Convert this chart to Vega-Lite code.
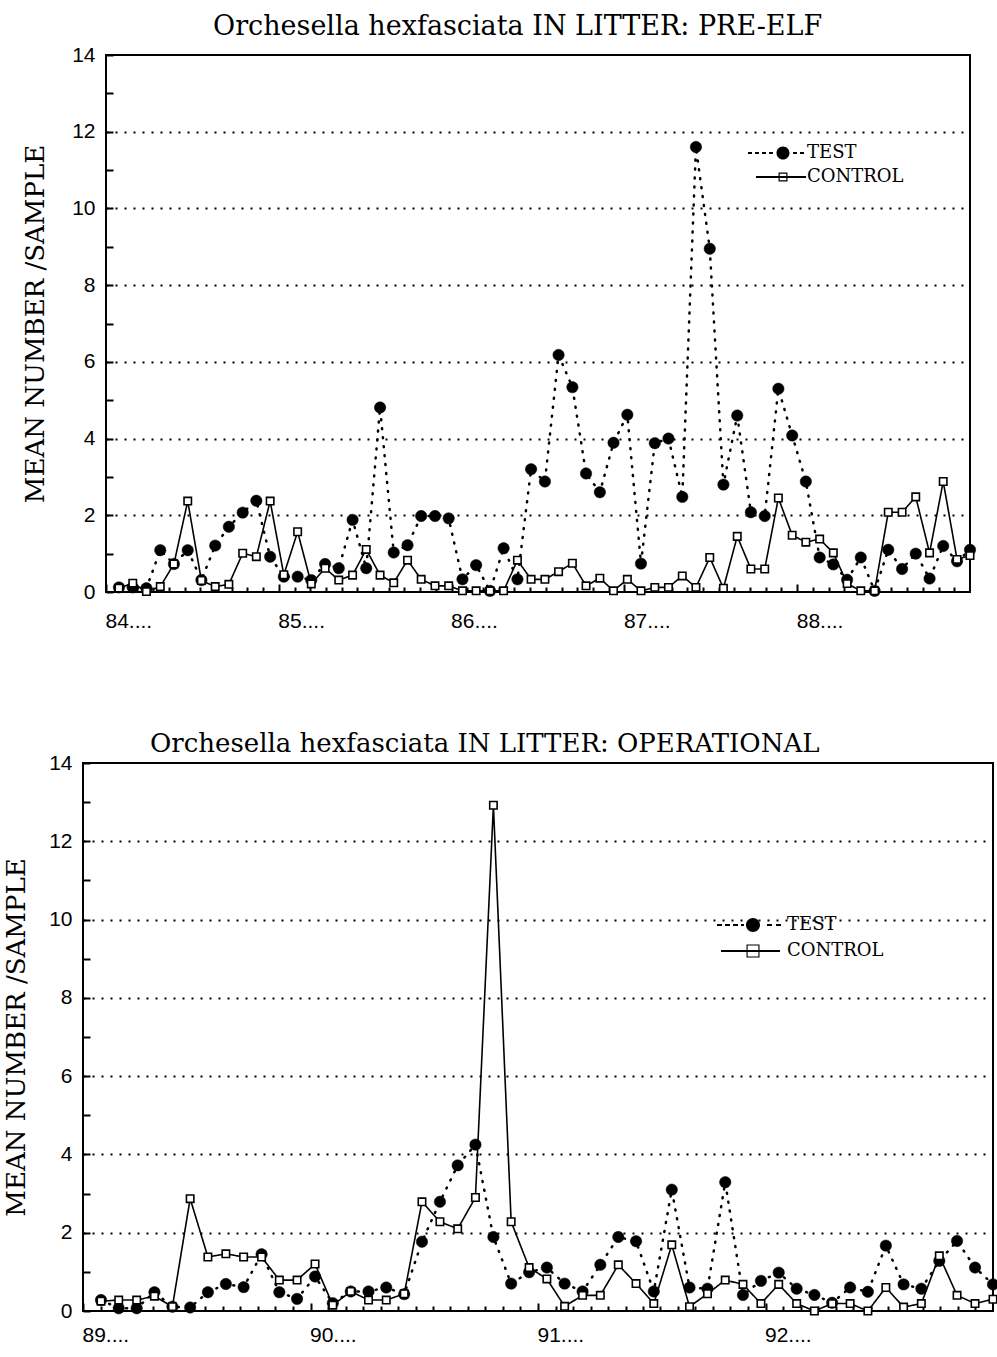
{
  "$schema": "https://vega.github.io/schema/vega-lite/v6.json",
  "background": "white",
  "padding": {"left": 2, "top": 12, "right": 0, "bottom": 0},
  "config": {
    "view": {"stroke": "black", "strokeWidth": 2},
    "font": "DejaVu Serif",
    "axis": {
      "labelColor": "black",
      "tickColor": "black",
      "titleColor": "black",
      "domain": false,
      "labelFont": "Liberation Sans",
      "labelFontSize": 21,
      "tickWidth": 2,
      "titleFont": "DejaVu Serif",
      "titleFontWeight": "normal",
      "titleFontSize": 26
    },
    "title": {"font": "DejaVu Serif", "fontWeight": "normal", "color": "black", "anchor": "start", "frame": "group"},
    "legend": {
      "orient": "none",
      "title": null,
      "symbolSize": 196,
      "symbolStrokeWidth": 0,
      "symbolFillColor": "black",
      "symbolStrokeColor": "black",
      "symbolOpacity": 1,
      "symbolDash": [1, 0],
      "labelFont": "DejaVu Serif",
      "labelFontSize": 18,
      "labelColor": "black",
      "padding": 0
    }
  },
  "datasets": {
    "pre": [
      {"t": 84.075, "TEST": 0.12, "CONTROL": 0.10},
      {"t": 84.155, "TEST": 0.12, "CONTROL": 0.23},
      {"t": 84.234, "TEST": 0.10, "CONTROL": 0.01},
      {"t": 84.314, "TEST": 1.09, "CONTROL": 0.14},
      {"t": 84.393, "TEST": 0.73, "CONTROL": 0.73},
      {"t": 84.473, "TEST": 1.09, "CONTROL": 2.37},
      {"t": 84.552, "TEST": 0.31, "CONTROL": 0.30},
      {"t": 84.632, "TEST": 1.21, "CONTROL": 0.14},
      {"t": 84.711, "TEST": 1.70, "CONTROL": 0.20},
      {"t": 84.791, "TEST": 2.07, "CONTROL": 1.01},
      {"t": 84.870, "TEST": 2.38, "CONTROL": 0.92},
      {"t": 84.950, "TEST": 0.92, "CONTROL": 2.37},
      {"t": 85.029, "TEST": 0.40, "CONTROL": 0.45},
      {"t": 85.109, "TEST": 0.40, "CONTROL": 1.57},
      {"t": 85.188, "TEST": 0.31, "CONTROL": 0.21},
      {"t": 85.268, "TEST": 0.73, "CONTROL": 0.62},
      {"t": 85.347, "TEST": 0.62, "CONTROL": 0.31},
      {"t": 85.427, "TEST": 1.88, "CONTROL": 0.44},
      {"t": 85.506, "TEST": 0.62, "CONTROL": 1.11},
      {"t": 85.586, "TEST": 4.81, "CONTROL": 0.44},
      {"t": 85.665, "TEST": 1.03, "CONTROL": 0.24},
      {"t": 85.745, "TEST": 1.22, "CONTROL": 0.83},
      {"t": 85.824, "TEST": 1.98, "CONTROL": 0.33},
      {"t": 85.904, "TEST": 1.98, "CONTROL": 0.16},
      {"t": 85.983, "TEST": 1.92, "CONTROL": 0.16},
      {"t": 86.063, "TEST": 0.33, "CONTROL": 0.03},
      {"t": 86.142, "TEST": 0.70, "CONTROL": 0.03},
      {"t": 86.222, "TEST": 0.03, "CONTROL": 0.03},
      {"t": 86.301, "TEST": 1.14, "CONTROL": 0.03},
      {"t": 86.381, "TEST": 0.33, "CONTROL": 0.83},
      {"t": 86.460, "TEST": 3.20, "CONTROL": 0.33},
      {"t": 86.540, "TEST": 2.88, "CONTROL": 0.33},
      {"t": 86.619, "TEST": 6.18, "CONTROL": 0.53},
      {"t": 86.699, "TEST": 5.34, "CONTROL": 0.75},
      {"t": 86.778, "TEST": 3.09, "CONTROL": 0.16},
      {"t": 86.858, "TEST": 2.60, "CONTROL": 0.36},
      {"t": 86.937, "TEST": 3.89, "CONTROL": 0.03},
      {"t": 87.017, "TEST": 4.62, "CONTROL": 0.33},
      {"t": 87.096, "TEST": 0.74, "CONTROL": 0.03},
      {"t": 87.176, "TEST": 3.88, "CONTROL": 0.12},
      {"t": 87.255, "TEST": 4.00, "CONTROL": 0.12},
      {"t": 87.335, "TEST": 2.48, "CONTROL": 0.42},
      {"t": 87.414, "TEST": 11.60, "CONTROL": 0.12},
      {"t": 87.494, "TEST": 8.95, "CONTROL": 0.90},
      {"t": 87.573, "TEST": 2.80, "CONTROL": 0.10},
      {"t": 87.653, "TEST": 4.60, "CONTROL": 1.45},
      {"t": 87.732, "TEST": 2.08, "CONTROL": 0.60},
      {"t": 87.812, "TEST": 1.98, "CONTROL": 0.60},
      {"t": 87.891, "TEST": 5.30, "CONTROL": 2.45},
      {"t": 87.971, "TEST": 4.08, "CONTROL": 1.48},
      {"t": 88.050, "TEST": 2.88, "CONTROL": 1.30},
      {"t": 88.130, "TEST": 0.90, "CONTROL": 1.38},
      {"t": 88.209, "TEST": 0.72, "CONTROL": 1.02},
      {"t": 88.289, "TEST": 0.32, "CONTROL": 0.22},
      {"t": 88.368, "TEST": 0.90, "CONTROL": 0.03},
      {"t": 88.448, "TEST": 0.03, "CONTROL": 0.03},
      {"t": 88.527, "TEST": 1.10, "CONTROL": 2.08},
      {"t": 88.607, "TEST": 0.60, "CONTROL": 2.08},
      {"t": 88.686, "TEST": 1.00, "CONTROL": 2.48},
      {"t": 88.766, "TEST": 0.35, "CONTROL": 1.02},
      {"t": 88.845, "TEST": 1.20, "CONTROL": 2.88},
      {"t": 88.925, "TEST": 0.80, "CONTROL": 0.85},
      {"t": 89.000, "TEST": 1.10, "CONTROL": 0.95}
    ],
    "op": [
      {"t": 89.079, "TEST": 0.28, "CONTROL": 0.25},
      {"t": 89.157, "TEST": 0.07, "CONTROL": 0.28},
      {"t": 89.236, "TEST": 0.07, "CONTROL": 0.28},
      {"t": 89.314, "TEST": 0.48, "CONTROL": 0.38},
      {"t": 89.393, "TEST": 0.11, "CONTROL": 0.11},
      {"t": 89.471, "TEST": 0.09, "CONTROL": 2.87},
      {"t": 89.549, "TEST": 0.48, "CONTROL": 1.38},
      {"t": 89.628, "TEST": 0.69, "CONTROL": 1.46},
      {"t": 89.706, "TEST": 0.61, "CONTROL": 1.38},
      {"t": 89.785, "TEST": 1.45, "CONTROL": 1.38},
      {"t": 89.863, "TEST": 0.48, "CONTROL": 0.79},
      {"t": 89.941, "TEST": 0.31, "CONTROL": 0.79},
      {"t": 90.020, "TEST": 0.88, "CONTROL": 1.20},
      {"t": 90.098, "TEST": 0.20, "CONTROL": 0.15},
      {"t": 90.177, "TEST": 0.50, "CONTROL": 0.50},
      {"t": 90.255, "TEST": 0.50, "CONTROL": 0.28},
      {"t": 90.333, "TEST": 0.60, "CONTROL": 0.28},
      {"t": 90.412, "TEST": 0.43, "CONTROL": 0.44},
      {"t": 90.490, "TEST": 1.77, "CONTROL": 2.79},
      {"t": 90.569, "TEST": 2.79, "CONTROL": 2.28},
      {"t": 90.647, "TEST": 3.72, "CONTROL": 2.10},
      {"t": 90.725, "TEST": 4.25, "CONTROL": 2.90},
      {"t": 90.804, "TEST": 1.89, "CONTROL": 12.92},
      {"t": 90.882, "TEST": 0.70, "CONTROL": 2.28},
      {"t": 90.961, "TEST": 0.99, "CONTROL": 1.11},
      {"t": 91.039, "TEST": 1.11, "CONTROL": 0.82},
      {"t": 91.117, "TEST": 0.70, "CONTROL": 0.12},
      {"t": 91.196, "TEST": 0.50, "CONTROL": 0.40},
      {"t": 91.274, "TEST": 1.18, "CONTROL": 0.40},
      {"t": 91.353, "TEST": 1.89, "CONTROL": 1.18},
      {"t": 91.431, "TEST": 1.78, "CONTROL": 0.70},
      {"t": 91.509, "TEST": 0.50, "CONTROL": 0.19},
      {"t": 91.588, "TEST": 3.10, "CONTROL": 1.69},
      {"t": 91.666, "TEST": 0.60, "CONTROL": 0.11},
      {"t": 91.745, "TEST": 0.57, "CONTROL": 0.44},
      {"t": 91.823, "TEST": 3.29, "CONTROL": 0.79},
      {"t": 91.901, "TEST": 0.41, "CONTROL": 0.68},
      {"t": 91.980, "TEST": 0.77, "CONTROL": 0.19},
      {"t": 92.058, "TEST": 0.98, "CONTROL": 0.68},
      {"t": 92.137, "TEST": 0.57, "CONTROL": 0.19},
      {"t": 92.215, "TEST": 0.41, "CONTROL": 0.00},
      {"t": 92.293, "TEST": 0.21, "CONTROL": 0.19},
      {"t": 92.372, "TEST": 0.60, "CONTROL": 0.19},
      {"t": 92.450, "TEST": 0.49, "CONTROL": 0.00},
      {"t": 92.529, "TEST": 1.67, "CONTROL": 0.60},
      {"t": 92.607, "TEST": 0.68, "CONTROL": 0.10},
      {"t": 92.685, "TEST": 0.57, "CONTROL": 0.19},
      {"t": 92.764, "TEST": 1.28, "CONTROL": 1.41},
      {"t": 92.842, "TEST": 1.79, "CONTROL": 0.40},
      {"t": 92.921, "TEST": 1.11, "CONTROL": 0.19},
      {"t": 93.000, "TEST": 0.68, "CONTROL": 0.30}
    ]
  },
  "resolve": {"scale": {"strokeDash": "independent"}, "legend": {"strokeDash": "independent"}},
  "bounds": "flush",
  "center": true,
  "spacing": 171,
  "vconcat": [
    {
      "title": {"text": "Orchesella hexfasciata IN LITTER: PRE-ELF", "fontSize": 27, "dx": 107, "offset": 3},
      "width": 864,
      "height": 537,
      "data": {"name": "pre"},
      "transform": [{"fold": ["TEST", "CONTROL"], "as": ["series", "v"]}],
      "encoding": {
        "x": {
          "field": "t",
          "type": "quantitative",
          "scale": {"domain": [84, 89], "nice": false, "zero": false},
          "axis": {
            "title": null,
            "values": [84, 84.091, 84.182, 84.273, 84.364, 84.455, 84.545, 84.636, 84.727, 84.818, 84.909,
                       85, 85.091, 85.182, 85.273, 85.364, 85.455, 85.545, 85.636, 85.727, 85.818, 85.909,
                       86, 86.091, 86.182, 86.273, 86.364, 86.455, 86.545, 86.636, 86.727, 86.818, 86.909,
                       87, 87.091, 87.182, 87.273, 87.364, 87.455, 87.545, 87.636, 87.727, 87.818, 87.909,
                       88, 88.091, 88.182, 88.273, 88.364, 88.455, 88.545, 88.636, 88.727, 88.818, 88.909],
            "labelExpr": "datum.value % 1 === 0 ? datum.value + '....' : ''",
            "labelAlign": "left",
            "labelOffset": -1,
            "labelPadding": 26,
            "labelOverlap": false,
            "labelFlush": false,
            "tickSize": {"condition": {"test": "datum.value % 1 === 0", "value": -8}, "value": -5},
            "grid": false
          }
        },
        "y": {
          "field": "v",
          "type": "quantitative",
          "scale": {"domain": [0, 14], "nice": false},
          "axis": {
            "title": "MEAN NUMBER /SAMPLE",
            "titlePadding": 23,
            "values": [0, 1, 2, 3, 4, 5, 6, 7, 8, 9, 10, 11, 12, 13, 14],
            "labelExpr": "datum.value % 2 === 0 ? datum.label : ''",
            "labelPadding": 18,
            "tickSize": -7,
            "grid": true,
            "gridColor": "black",
            "gridDash": [2, 7],
            "gridWidth": 2,
            "gridOpacity": {"condition": {"test": "datum.value % 2 === 0 && datum.value > 0 && datum.value < 14", "value": 1}, "value": 0}
          }
        }
      },
      "resolve": {"scale": {"strokeDash": "independent"}, "legend": {"strokeDash": "independent"}},
      "layer": [
        {
          "transform": [{"filter": "datum.series === 'TEST'"}],
          "mark": {"type": "line", "color": "black", "strokeWidth": 2.5, "strokeCap": "round"},
          "encoding": {
            "strokeDash": {
              "field": "series",
              "type": "nominal",
              "scale": {"domain": ["TEST"], "range": [[1, 8]]},
              "legend": {
                "legendX": 668,
                "legendY": 89,
                "labelOffset": 15,
                "symbolType": "M -0.93,0 A 0.93,0.93 0 1,0 0.93,0 A 0.93,0.93 0 1,0 -0.93,0 Z M -5,-0.14 L -4.43,-0.14 L -4.43,0.14 L -5,0.14 Z M -4,-0.14 L -3.43,-0.14 L -3.43,0.14 L -4,0.14 Z M -3,-0.14 L -2.43,-0.14 L -2.43,0.14 L -3,0.14 Z M -2,-0.14 L -1.43,-0.14 L -1.43,0.14 L -2,0.14 Z M 1.43,-0.14 L 2,-0.14 L 2,0.14 L 1.43,0.14 Z M 2.43,-0.14 L 3,-0.14 L 3,0.14 L 2.43,0.14 Z"
              }
            }
          }
        },
        {
          "transform": [{"filter": "datum.series === 'CONTROL'"}],
          "mark": {"type": "line", "color": "black", "strokeWidth": 1.6},
          "encoding": {
            "strokeDash": {
              "field": "series",
              "type": "nominal",
              "scale": {"domain": ["CONTROL"], "range": [[1, 0]]},
              "legend": {
                "legendX": 668,
                "legendY": 113,
                "labelOffset": 15,
                "symbolType": "M -3.86,-0.14 L 3.29,-0.14 L 3.29,0.14 L -3.86,0.14 Z M -0.64,-0.64 L 0.64,-0.64 L 0.64,0.64 L -0.64,0.64 Z M -0.47,-0.47 L -0.47,0.47 L 0.47,0.47 L 0.47,-0.47 Z"
              }
            }
          }
        },
        {
          "transform": [{"filter": "datum.series === 'TEST'"}],
          "mark": {"type": "point", "shape": "circle", "filled": true, "fill": "black", "stroke": "black", "strokeWidth": 0.5, "size": 130, "opacity": 1}
        },
        {
          "transform": [{"filter": "datum.series === 'CONTROL'"}],
          "mark": {"type": "point", "shape": "square", "filled": true, "fill": "white", "stroke": "black", "strokeWidth": 1.6, "size": 55, "opacity": 1}
        }
      ]
    },
    {
      "title": {"text": "Orchesella hexfasciata IN LITTER: OPERATIONAL", "fontSize": 26, "dx": 67, "offset": -5},
      "width": 910,
      "height": 548,
      "data": {"name": "op"},
      "transform": [{"fold": ["TEST", "CONTROL"], "as": ["series", "v"]}],
      "encoding": {
        "x": {
          "field": "t",
          "type": "quantitative",
          "scale": {"domain": [89, 93], "nice": false, "zero": false},
          "axis": {
            "title": null,
            "values": [89, 89.077, 89.154, 89.231, 89.308, 89.385, 89.462, 89.538, 89.615, 89.692, 89.769, 89.846, 89.923,
                       90, 90.077, 90.154, 90.231, 90.308, 90.385, 90.462, 90.538, 90.615, 90.692, 90.769, 90.846, 90.923,
                       91, 91.077, 91.154, 91.231, 91.308, 91.385, 91.462, 91.538, 91.615, 91.692, 91.769, 91.846, 91.923,
                       92, 92.077, 92.154, 92.231, 92.308, 92.385, 92.462, 92.538, 92.615, 92.692, 92.769, 92.846, 92.923],
            "labelExpr": "datum.value % 1 === 0 ? datum.value + '....' : ''",
            "labelAlign": "left",
            "labelOffset": -1,
            "labelPadding": 21,
            "labelOverlap": false,
            "labelFlush": false,
            "tickSize": {"condition": {"test": "datum.value % 1 === 0", "value": -8}, "value": -5},
            "grid": false
          }
        },
        "y": {
          "field": "v",
          "type": "quantitative",
          "scale": {"domain": [0, 14], "nice": false},
          "axis": {
            "title": "MEAN NUMBER /SAMPLE",
            "titlePadding": 19,
            "values": [0, 1, 2, 3, 4, 5, 6, 7, 8, 9, 10, 11, 12, 13, 14],
            "labelExpr": "datum.value % 2 === 0 ? datum.label : ''",
            "labelPadding": 18,
            "tickSize": -7,
            "grid": true,
            "gridColor": "black",
            "gridDash": [2, 7],
            "gridWidth": 2,
            "gridOpacity": {"condition": {"test": "datum.value % 2 === 0 && datum.value > 0 && datum.value < 14", "value": 1}, "value": 0}
          }
        }
      },
      "resolve": {"scale": {"strokeDash": "independent"}, "legend": {"strokeDash": "independent"}},
      "layer": [
        {
          "transform": [{"filter": "datum.series === 'TEST'"}],
          "mark": {"type": "line", "color": "black", "strokeWidth": 2.5, "strokeCap": "round"},
          "encoding": {
            "strokeDash": {
              "field": "series",
              "type": "nominal",
              "scale": {"domain": ["TEST"], "range": [[1, 8]]},
              "legend": {
                "legendX": 661,
                "legendY": 153,
                "labelOffset": 25,
                "symbolType": "M -1,0 A 1,1 0 1,0 1,0 A 1,1 0 1,0 -1,0 Z M -5.14,-0.14 L -4.43,-0.14 L -4.43,0.14 L -5.14,0.14 Z M -4,-0.14 L -3.29,-0.14 L -3.29,0.14 L -4,0.14 Z M -2.86,-0.14 L -2.14,-0.14 L -2.14,0.14 L -2.86,0.14 Z M -1.71,-0.14 L -1.29,-0.14 L -1.29,0.14 L -1.71,0.14 Z M 2,-0.14 L 2.71,-0.14 L 2.71,0.14 L 2,0.14 Z M 3.29,-0.14 L 4,-0.14 L 4,0.14 L 3.29,0.14 Z"
              }
            }
          }
        },
        {
          "transform": [{"filter": "datum.series === 'CONTROL'"}],
          "mark": {"type": "line", "color": "black", "strokeWidth": 1.6},
          "encoding": {
            "strokeDash": {
              "field": "series",
              "type": "nominal",
              "scale": {"domain": ["CONTROL"], "range": [[1, 0]]},
              "legend": {
                "legendX": 661,
                "legendY": 179,
                "labelOffset": 25,
                "symbolType": "M -4.57,-0.14 L 3.86,-0.14 L 3.86,0.14 L -4.57,0.14 Z M -0.93,-0.93 L 0.93,-0.93 L 0.93,0.93 L -0.93,0.93 Z M -0.77,-0.77 L -0.77,0.77 L 0.77,0.77 L 0.77,-0.77 Z"
              }
            }
          }
        },
        {
          "transform": [{"filter": "datum.series === 'TEST'"}],
          "mark": {"type": "point", "shape": "circle", "filled": true, "fill": "black", "stroke": "black", "strokeWidth": 0.5, "size": 130, "opacity": 1}
        },
        {
          "transform": [{"filter": "datum.series === 'CONTROL'"}],
          "mark": {"type": "point", "shape": "square", "filled": true, "fill": "white", "stroke": "black", "strokeWidth": 1.6, "size": 55, "opacity": 1}
        }
      ]
    }
  ]
}
